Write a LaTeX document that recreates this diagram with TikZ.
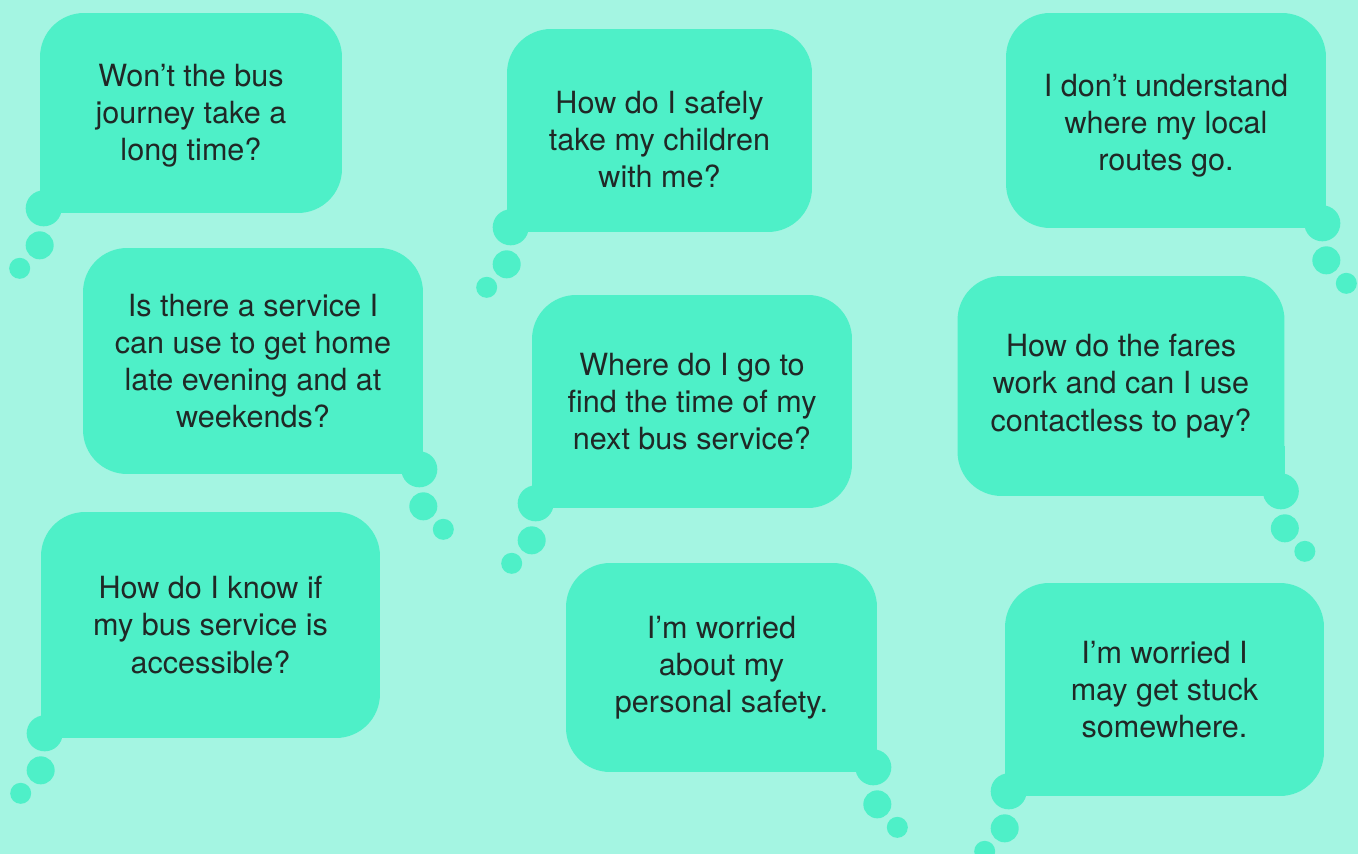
\documentclass[tikz,border=0pt]{standalone}
\usepackage{fontspec}
\setmainfont{TeX Gyre Heros}

\definecolor{backColor}{RGB}{164,245,226}
\definecolor{bubbleColor}{RGB}{78,240,200}
\definecolor{textColor}{RGB}{32,40,38}

\def \cornerRadius{0.88cm}
\def \bigDot{18}
\def \midDot{14}
\def \smallDot{10.5}

\tikzset{
  bubble/.style={fill=bubbleColor, rounded corners=\cornerRadius, inner sep=0pt,
    align=center, text=textColor, font=\fontsize{17.4}{21.2}\selectfont},
}

% tail of a bubble: #1 node, #2 anchor, #3 side (-1 left, 1 right)
\newcommand{\bubbleTail}[3]{
  \fill[bubbleColor] (#1.#2) rectangle ++({-(#3)*50}, -50);
  \fill[bubbleColor] (#1.#2) ++({-(#3)*4}, -5) circle [radius = \bigDot];
  \fill[bubbleColor] (#1.#2) ++(0, 32) circle [radius = \midDot];
  \fill[bubbleColor] (#1.#2) ++({(#3)*20}, 55) circle [radius = \smallDot];
}
% pushes the text of a bubble down a little
\newcommand{\topPad}[1]{\rule{0pt}{#1}}

\begin{document}
\begin{tikzpicture}[x=0.02cm, y=-0.02cm]
\fill[backColor] (0,0) rectangle (1358,854);
\useasboundingbox (0,0) rectangle (1358,854);

% ---- Left column
\node[bubble, minimum width=6.04cm, minimum height=4.0cm] (wontBus) at (191,113) {\topPad{15.5pt}Won’t the bus\\journey take a\\long time?};
\bubbleTail{wontBus}{south west}{-1}
\node[bubble, minimum width=6.8cm, minimum height=4.52cm] (lateService) at (253,361) {Is there a service I\\can use to get home\\late evening and at\\weekends?};
\bubbleTail{lateService}{south east}{1}
\node[bubble, minimum width=6.78cm, minimum height=4.52cm] (accessible) at (210.5,625) {How do I know if\\my bus service is\\accessible?};
\bubbleTail{accessible}{south west}{-1}

% ---- Middle column
\node[bubble, minimum width=6.1cm, minimum height=4.06cm] (children) at (659.5,130.5) {\topPad{23pt}How do I safely\\take my children\\with me?};
\bubbleTail{children}{south west}{-1}
\node[bubble, minimum width=6.4cm, minimum height=4.26cm] (nextBus) at (692,401.5) {Where do I go to\\find the time of my\\next bus service?};
\bubbleTail{nextBus}{south west}{-1}
\node[bubble, minimum width=6.22cm, minimum height=4.18cm] (safety) at (721.5,667.5) {I’m worried\\about my\\personal safety.};
\bubbleTail{safety}{south east}{1}

% ---- Right column
\node[bubble, minimum width=6.4cm, minimum height=4.3cm] (routes) at (1166,120.5) {\topPad{18.5pt}I don’t understand\\where my local\\routes go.};
\bubbleTail{routes}{south east}{1}
\node[bubble, minimum width=6.54cm, minimum height=4.4cm] (fares) at (1121,386) {How do the fares\\work and can I use\\contactless to pay?};
\bubbleTail{fares}{south east}{1}
\node[bubble, minimum width=6.38cm, minimum height=4.26cm] (stuck) at (1164.5,689.5) {I’m worried I\\may get stuck\\somewhere.};
\bubbleTail{stuck}{south west}{-1}
\end{tikzpicture}
\end{document}
